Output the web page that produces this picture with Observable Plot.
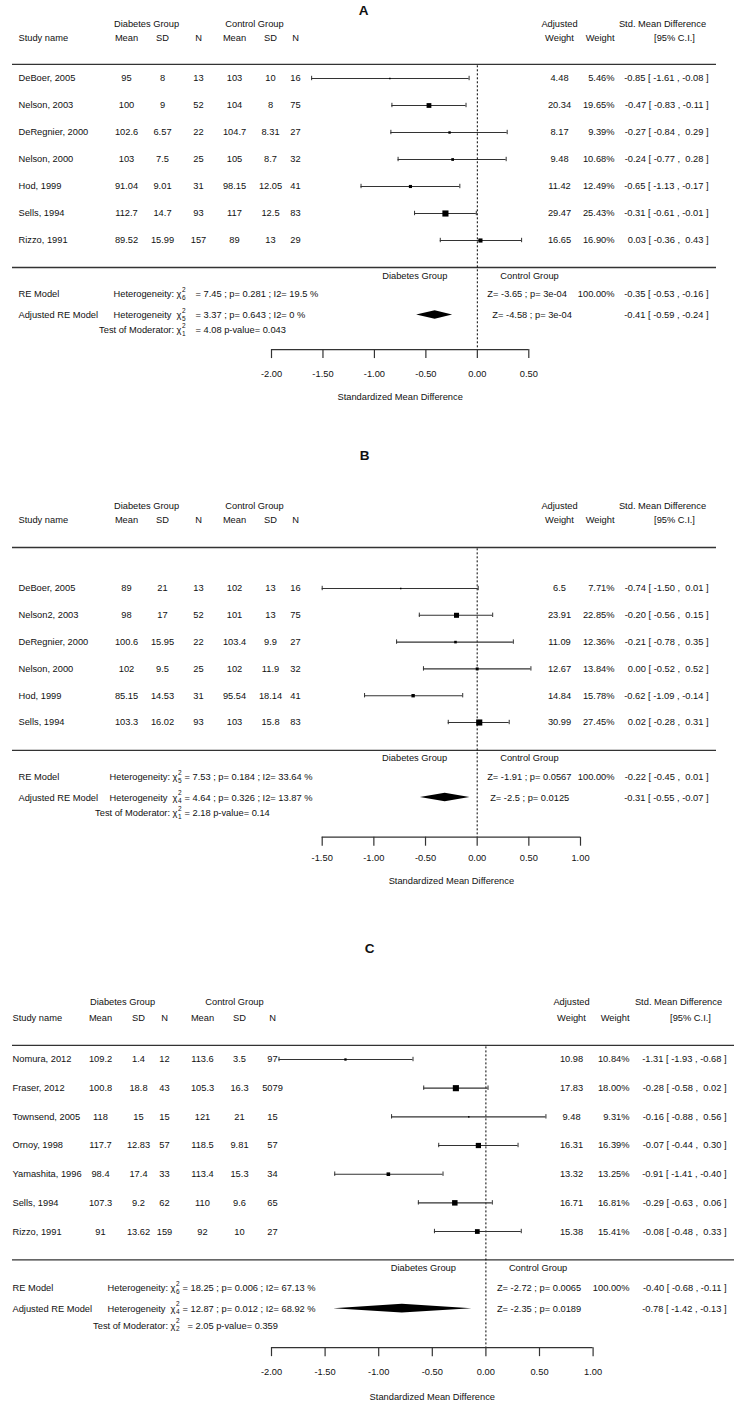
<!DOCTYPE html>
<html>
<head>
<meta charset="utf-8">
<script src="https://cdn.jsdelivr.net/npm/d3@7"></script>
<script src="https://cdn.jsdelivr.net/npm/@observablehq/plot@0.6"></script>
<style>
  body { margin: 0; background: #fff; }
  #chart svg { display: block; }
  #chart svg text { white-space: pre; }
</style>
</head>
<body>
<div id="chart"></div>
<script>
// ---------------- Panel A data ----------------
const studyA = ["DeBoer, 2005", "Nelson, 2003", "DeRegnier, 2000", "Nelson, 2000", "Hod, 1999", "Sells, 1994", "Rizzo, 1991"];
const dMeanA = [95, 100, 102.6, 103, 91.04, 112.7, 89.52];
const dSdA = [8, 9, 6.57, 7.5, 9.01, 14.7, 15.99];
const dNA = [13, 52, 22, 25, 31, 93, 157];
const cMeanA = [103, 104, 104.7, 105, 98.15, 117, 89];
const cSdA = [10, 8, 8.31, 8.7, 12.05, 12.5, 13];
const cNA = [16, 75, 27, 32, 41, 83, 29];
const adjWeightA = [4.48, 20.34, 8.17, 9.48, 11.42, 29.47, 16.65];
const weightA = [5.46, 19.65, 9.39, 10.68, 12.49, 25.43, 16.90];
const smdA = [-0.85, -0.47, -0.27, -0.24, -0.65, -0.31, 0.03];
const ciLowA = [-1.61, -0.83, -0.84, -0.77, -1.13, -0.61, -0.36];
const ciHighA = [-0.08, -0.11, 0.29, 0.28, -0.17, -0.01, 0.43];
const reModelA = [-0.35, -0.53, -0.16];      // estimate, lower, upper
const adjModelA = [-0.41, -0.59, -0.24];
const hetStatsA = ["= 7.45 ; p= 0.281 ; I2= 19.5 %", "= 3.37 ; p= 0.643 ; I2= 0 %"];
const hetDfA = [6, 5];
const zStatsA = ["Z= -3.65 ; p= 3e-04", "Z= -4.58 ; p= 3e-04"];
const modTestA = ["= 4.08 p-value= 0.043"];
const modDfA = [1];
const ticksA = [-2, -1.5, -1, -0.5, 0, 0.5];

// ---------------- Panel B data ----------------
const studyB = ["DeBoer, 2005", "Nelson2, 2003", "DeRegnier, 2000", "Nelson, 2000", "Hod, 1999", "Sells, 1994"];
const dMeanB = [89, 98, 100.6, 102, 85.15, 103.3];
const dSdB = [21, 17, 15.95, 9.5, 14.53, 16.02];
const dNB = [13, 52, 22, 25, 31, 93];
const cMeanB = [102, 101, 103.4, 102, 95.54, 103];
const cSdB = [13, 13, 9.9, 11.9, 18.14, 15.8];
const cNB = [16, 75, 27, 32, 41, 83];
const adjWeightB = [6.5, 23.91, 11.09, 12.67, 14.84, 30.99];
const weightB = [7.71, 22.85, 12.36, 13.84, 15.78, 27.45];
const smdB = [-0.74, -0.20, -0.21, 0.00, -0.62, 0.02];
const ciLowB = [-1.50, -0.56, -0.78, -0.52, -1.09, -0.28];
const ciHighB = [0.01, 0.15, 0.35, 0.52, -0.14, 0.31];
const reModelB = [-0.22, -0.45, 0.01];
const adjModelB = [-0.31, -0.55, -0.07];
const hetStatsB = ["= 7.53 ; p= 0.184 ; I2= 33.64 %", "= 4.64 ; p= 0.326 ; I2= 13.87 %"];
const hetDfB = [5, 4];
const zStatsB = ["Z= -1.91 ; p= 0.0567", "Z= -2.5 ; p= 0.0125"];
const modTestB = ["= 2.18 p-value= 0.14"];
const modDfB = [1];
const ticksB = [-1.5, -1, -0.5, 0, 0.5, 1];

// ---------------- Panel C data ----------------
const studyC = ["Nomura, 2012", "Fraser, 2012", "Townsend, 2005", "Ornoy, 1998", "Yamashita, 1996", "Sells, 1994", "Rizzo, 1991"];
const dMeanC = [109.2, 100.8, 118, 117.7, 98.4, 107.3, 91];
const dSdC = [1.4, 18.8, 15, 12.83, 17.4, 9.2, 13.62];
const dNC = [12, 43, 15, 57, 33, 62, 159];
const cMeanC = [113.6, 105.3, 121, 118.5, 113.4, 110, 92];
const cSdC = [3.5, 16.3, 21, 9.81, 15.3, 9.6, 10];
const cNC = [97, 5079, 15, 57, 34, 65, 27];
const adjWeightC = [10.98, 17.83, 9.48, 16.31, 13.32, 16.71, 15.38];
const weightC = [10.84, 18.00, 9.31, 16.39, 13.25, 16.81, 15.41];
const smdC = [-1.31, -0.28, -0.16, -0.07, -0.91, -0.29, -0.08];
const ciLowC = [-1.93, -0.58, -0.88, -0.44, -1.41, -0.63, -0.48];
const ciHighC = [-0.68, 0.02, 0.56, 0.30, -0.40, 0.06, 0.33];
const reModelC = [-0.40, -0.68, -0.11];
const adjModelC = [-0.78, -1.42, -0.13];
const hetStatsC = ["= 18.25 ; p= 0.006 ; I2= 67.13 %", "= 12.87 ; p= 0.012 ; I2= 68.92 %"];
const hetDfC = [6, 4];
const zStatsC = ["Z= -2.72 ; p= 0.0065", "Z= -2.35 ; p= 0.0189"];
const modTestC = ["= 2.05 p-value= 0.359"];
const modDfC = [2];
const ticksC = [-2, -1.5, -1, -0.5, 0, 0.5, 1];

const reTotalWeight = 100.00;

// ---------------- helpers ----------------
const pad = v => (v < 0 ? "" : " ") + v.toFixed(2);
const ciText = (e, lo, hi) => `${e.toFixed(2)} [ ${pad(lo)} , ${pad(hi)} ]`;
const FS = 9.3;
const INK = "#111";
const LINE = "#333";

function buildPanel(D, L) {
  const R = L.rows;
  const rows = D.study.map((s, i) => ({
    i, study: s,
    dMean: D.dMean[i], dSd: D.dSd[i], dN: D.dN[i],
    cMean: D.cMean[i], cSd: D.cSd[i], cN: D.cN[i],
    adjW: D.adjW[i], w: D.weight[i],
    est: D.smd[i], lo: D.lo[i], hi: D.hi[i]
  }));
  const at = (txt, dx, y, anchor, o = {}) =>
    Plot.text([txt], {text: d => d, frameAnchor: "left", dx, y, textAnchor: anchor, fontSize: FS, fill: INK, ...o});
  const atZero = (txt, dx, y, anchor, o = {}) =>
    Plot.text([txt], {text: d => d, x: 0, dx, y, textAnchor: anchor, fontSize: FS, fill: INK, ...o});
  const col = (fn, dx, anchor) =>
    Plot.text(rows, {y: "i", text: fn, frameAnchor: "left", dx, textAnchor: anchor, fontSize: FS, fill: INK});
  const chi = (df, y) => [
    at("χ", L.chiX, y, "start"),
    at("2", L.chiX + 5.5, y, "start", {dy: -4.5, fontSize: 6.5}),
    at(String(df), L.chiX + 5.5, y, "start", {dy: 3.5, fontSize: 6.5})
  ];
  const C = L.cols;
  const ticks = D.ticks;
  const xMin = ticks[0], xMax = ticks[ticks.length - 1];
  const dh = 4.3 / L.sp;
  const diamond = [
    {x: D.adj[1], y1: R.adj, y2: R.adj},
    {x: D.adj[0], y1: R.adj - dh, y2: R.adj + dh},
    {x: D.adj[2], y1: R.adj, y2: R.adj}
  ];
  const capIn = -2.2;

  return Plot.plot({
    width: 738,
    height: L.height,
    margin: 0,
    x: {domain: [xMin, xMax], range: L.xRange, axis: null},
    y: {domain: [0, 1], range: [L.row0, L.row0 + L.sp], axis: null},
    r: {type: "linear", domain: d3.extent(D.weight), range: [0.85, 3.45]},
    style: {fontFamily: "'Liberation Sans', Arial, sans-serif", fontSize: FS + "px", color: INK, background: "#fff"},
    marks: [
      // panel letter
      at(L.letter, L.letterX, R.letter, "middle", {fontWeight: "bold", fontSize: 13.5}),
      // headers
      at("Diabetes Group", C.dGrp, R.grp, "middle"),
      at("Control Group", C.cGrp, R.grp, "middle"),
      at("Study name", C.study, R.col, "start"),
      at("Mean", C.dMean, R.col, "middle"),
      at("SD", C.dSd, R.col, "middle"),
      at("N", C.dN, R.col, "middle"),
      at("Mean", C.cMean, R.col, "middle"),
      at("SD", C.cSd, R.col, "middle"),
      at("N", C.cN, R.col, "middle"),
      at("Adjusted", C.adjW, R.grp, "middle"),
      at("Weight", C.adjW, R.col, "middle"),
      at("Weight", C.w, R.col, "end"),
      at("Std. Mean Difference", C.smdHdr, R.grp, "middle"),
      at("[95% C.I.]", C.ciHdr, R.col, "middle"),
      // separator lines
      Plot.ruleY([R.hdr, R.bot], {insetLeft: C.lineL, insetRight: 738 - C.lineR, stroke: LINE, strokeWidth: 1.3}),
      // zero reference line
      Plot.ruleX([0], {y1: R.hdr + 0.05, y2: R.axis, stroke: "#000", strokeDasharray: "2,2", strokeWidth: 1}),
      // study table columns
      col(r => r.study, C.study, "start"),
      col(r => String(r.dMean), C.dMean, "middle"),
      col(r => String(r.dSd), C.dSd, "middle"),
      col(r => String(r.dN), C.dN, "middle"),
      col(r => String(r.cMean), C.cMean, "middle"),
      col(r => String(r.cSd), C.cSd, "middle"),
      col(r => String(r.cN), C.cN, "middle"),
      col(r => String(r.adjW), C.adjW, "middle"),
      col(r => r.w.toFixed(2) + "%", C.w, "end"),
      col(r => ciText(r.est, r.lo, r.hi), C.ci, "end"),
      // confidence intervals
      Plot.ruleY(rows, {y: "i", x1: "lo", x2: "hi", stroke: LINE, strokeWidth: 1.1}),
      Plot.ruleX(rows, {x: "lo", y1: "i", y2: "i", insetTop: capIn, insetBottom: capIn, stroke: LINE, strokeWidth: 1}),
      Plot.ruleX(rows, {x: "hi", y1: "i", y2: "i", insetTop: capIn, insetBottom: capIn, stroke: LINE, strokeWidth: 1}),
      Plot.dot(rows, {x: "est", y: "i", r: "w", symbol: "square", fill: "#000", stroke: null}),
      // summary section
      atZero("Diabetes Group", -30, R.grpLbl, "end"),
      atZero("Control Group", 23, R.grpLbl, "start"),
      at("RE Model", C.study, R.re, "start"),
      at("Heterogeneity:", L.chiX - 63, R.re, "start"),
      ...chi(D.hetDf[0], R.re),
      at(D.hetStats[0], L.eqX, R.re, "start"),
      atZero(D.zStats[0], L.zdx[0], R.re, "start"),
      at(reTotalWeight.toFixed(2) + "%", C.w, R.re, "end"),
      at(ciText(...D.re), C.ci, R.re, "end"),
      at("Adjusted RE Model", C.study, R.adj, "start"),
      at("Heterogeneity", L.chiX - 63, R.adj, "start"),
      ...chi(D.hetDf[1], R.adj),
      at(D.hetStats[1], L.eqX, R.adj, "start"),
      atZero(D.zStats[1], L.zdx[1], R.adj, "start"),
      at(ciText(...D.adj), C.ci, R.adj, "end"),
      Plot.areaY(diamond, {x: "x", y1: "y1", y2: "y2", fill: "#000"}),
      at("Test of Moderator:", L.chiX - 2.5, R.test, "end"),
      ...chi(D.modDf[0], R.test),
      at(D.modTest[0], L.testEqX, R.test, "start"),
      // axis
      Plot.ruleY([R.axis], {x1: xMin, x2: xMax, stroke: LINE, strokeWidth: 1.2}),
      Plot.ruleX(ticks, {x: d => d, y1: R.axis, y2: R.axis, insetBottom: -9, stroke: LINE, strokeWidth: 1.2}),
      Plot.text(ticks, {x: d => d, y: R.tick, text: d => d.toFixed(2), fontSize: FS, fill: INK}),
      Plot.text(["Standardized Mean Difference"], {x: (xMin + xMax) / 2, y: R.title, text: d => d, fontSize: FS, fill: INK})
    ]
  });
}

// ---------------- layout ----------------
const colsAB = {study: 18, dGrp: 146, cGrp: 254, dMean: 126, dSd: 162, dN: 198, cMean: 234, cSd: 270, cN: 295,
                adjW: 559, w: 614, ci: 708, smdHdr: 662, ciHdr: 674, lineL: 12, lineR: 716};
const colsC = {study: 12, dGrp: 122, cGrp: 234, dMean: 100, dSd: 138, dN: 164, cMean: 202, cSd: 239, cN: 272,
               adjW: 571, w: 629, ci: 726, smdHdr: 678, ciHdr: 690, lineL: 12, lineR: 734};

const layoutA = {letter: "A", letterX: 363, height: 430, row0: 78, sp: 27, xRange: [271, 528.3], cols: colsAB,
  chiX: 176, eqX: 195, testEqX: 195, zdx: [10, 15],
  rows: {letter: -2.52, grp: -2, col: -1.5, hdr: -0.52, bot: 7, grpLbl: 7.33, re: 7.98, adj: 8.76, test: 9.33, axis: 10.04, tick: 10.96, title: 11.81}};
const layoutB = {letter: "B", letterX: 364, height: 485, row0: 158, sp: 26.8, xRange: [321.7, 580], cols: colsAB,
  chiX: 172, eqX: 184, testEqX: 184, zdx: [10, 13],
  rows: {letter: -4.96, grp: -3.06, col: -2.54, hdr: -1.53, bot: 6.04, grpLbl: 6.34, re: 7.05, adj: 7.8, test: 8.38, axis: 9.28, tick: 10.07, title: 10.9}};
const layoutC = {letter: "C", letterX: 369, height: 489, row0: 144, sp: 28.67, xRange: [271, 592.6], cols: colsC,
  chiX: 170, eqX: 182, testEqX: 187, zdx: [11, 11],
  rows: {letter: -3.87, grp: -1.99, col: -1.46, hdr: -0.49, bot: 6.99, grpLbl: 7.28, re: 7.98, adj: 8.69, test: 9.28, axis: 10.05, tick: 10.91, title: 11.77}};

const dataA = {study: studyA, dMean: dMeanA, dSd: dSdA, dN: dNA, cMean: cMeanA, cSd: cSdA, cN: cNA,
  adjW: adjWeightA, weight: weightA, smd: smdA, lo: ciLowA, hi: ciHighA, re: reModelA, adj: adjModelA,
  hetStats: hetStatsA, hetDf: hetDfA, zStats: zStatsA, modTest: modTestA, modDf: modDfA, ticks: ticksA};
const dataB = {study: studyB, dMean: dMeanB, dSd: dSdB, dN: dNB, cMean: cMeanB, cSd: cSdB, cN: cNB,
  adjW: adjWeightB, weight: weightB, smd: smdB, lo: ciLowB, hi: ciHighB, re: reModelB, adj: adjModelB,
  hetStats: hetStatsB, hetDf: hetDfB, zStats: zStatsB, modTest: modTestB, modDf: modDfB, ticks: ticksB};
const dataC = {study: studyC, dMean: dMeanC, dSd: dSdC, dN: dNC, cMean: cMeanC, cSd: cSdC, cN: cNC,
  adjW: adjWeightC, weight: weightC, smd: smdC, lo: ciLowC, hi: ciHighC, re: reModelC, adj: adjModelC,
  hetStats: hetStatsC, hetDf: hetDfC, zStats: zStatsC, modTest: modTestC, modDf: modDfC, ticks: ticksC};

const chart = document.getElementById("chart");
chart.append(buildPanel(dataA, layoutA));
chart.append(buildPanel(dataB, layoutB));
chart.append(buildPanel(dataC, layoutC));
</script>
</body>
</html>
